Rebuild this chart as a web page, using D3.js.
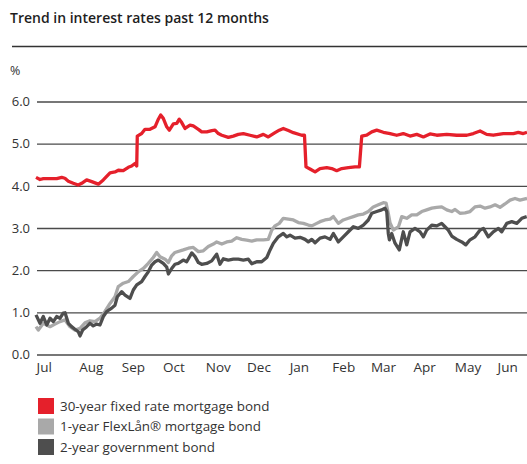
<!DOCTYPE html>
<html>
<head>
<meta charset="utf-8">
<script src="https://cdn.jsdelivr.net/npm/d3@7"></script>
<style>
  body { margin: 0; background: #fff; }
  svg { display: block; font-family: "Open Sans", sans-serif; }
</style>
</head>
<body>
<div class="wrapper"></div>
<script>
// days since 1 Jul 2022, rate in %
var fixed30 = [[0,4.20],[2.9,4.15],[5.3,4.17],[10.2,4.17],[15,4.17],[18.7,4.20],[21,4.18],[23.5,4.11],[27.1,4.06],[30.7,4.02],
  [33.2,4.06],[36.8,4.14],[40.5,4.10],[45.3,4.04],[48.9,4.14],[53.8,4.31],[57.4,4.33],[59.8,4.37],[63.4,4.36],[67.1,4.44],
  [69.5,4.47],[71.9,4.53],[73.2,4.47],[73.6,5.18],[76.8,5.24],[79.2,5.34],[82.8,5.34],[86.5,5.40],[88.9,5.58],[90.6,5.68],
  [92.5,5.60],[95,5.40],[96.9,5.32],[99.8,5.47],[102.3,5.48],[104.1,5.58],[105.9,5.50],[108.3,5.36],[111.9,5.44],[114.3,5.42],
  [118,5.34],[120.4,5.28],[124.1,5.28],[127.7,5.31],[130.1,5.32],[132.5,5.24],[135,5.20],[139.8,5.15],[143.4,5.18],[147,5.22],
  [150.7,5.24],[155.5,5.20],[160.4,5.16],[165.2,5.22],[168.8,5.16],[173.7,5.26],[176.8,5.32],[179.7,5.36],[183.4,5.31],[187,5.26],
  [193.1,5.20],[195.1,5.20],[196.2,4.45],[199.1,4.40],[202.8,4.33],[206.4,4.41],[211.3,4.43],[214.9,4.41],[218.5,4.36],[222.2,4.41],
  [227,4.43],[231.8,4.45],[235,4.45],[236.7,5.18],[240.3,5.20],[244,5.28],[247.6,5.32],[252.4,5.27],[257.3,5.24],[262.1,5.20],
  [266.9,5.24],[271.8,5.18],[276.7,5.22],[281.5,5.16],[286.3,5.23],[291.2,5.20],[298.5,5.22],[305.7,5.20],[313,5.20],[317.8,5.24],
  [322.7,5.30],[327.5,5.22],[332.3,5.20],[339.6,5.24],[346.9,5.24],[350.5,5.27],[354.1,5.24],[356.8,5.27]];

var flex1 = [[0,0.66],[1.7,0.58],[5.3,0.74],[10.2,0.66],[13.8,0.72],[17.4,0.78],[21.1,0.82],[24.7,0.66],[28.3,0.58],[32,0.62],
  [35.6,0.75],[39.2,0.80],[42.9,0.78],[46.5,0.86],[50.1,1.02],[53.8,1.21],[57.4,1.37],[59.8,1.61],[63.4,1.69],[67.1,1.73],
  [70.7,1.85],[74.3,1.96],[78,2.04],[81.6,2.16],[85.2,2.30],[87.7,2.42],[90.1,2.32],[93.8,2.26],[96.2,2.18],[98.6,2.34],
  [101,2.42],[107,2.48],[110.7,2.52],[114.3,2.54],[118,2.44],[121.6,2.46],[125.2,2.56],[128.9,2.62],[131.3,2.67],[135,2.62],
  [138.6,2.67],[142.2,2.69],[145.9,2.77],[149.5,2.73],[153.1,2.71],[156.8,2.69],[160.4,2.72],[165.2,2.72],[168.8,2.73],[171.3,2.95],
  [173.7,3.05],[176.8,3.11],[179.7,3.23],[183.4,3.21],[187,3.19],[190.6,3.13],[194.3,3.11],[197.9,3.07],[200.4,3.05],[204,3.11],
  [206.4,3.15],[210,3.19],[213.7,3.21],[216.1,3.27],[219.7,3.11],[223.3,3.19],[227,3.23],[230.6,3.27],[234.2,3.31],[237.9,3.33],
  [241.5,3.39],[245.1,3.50],[248.8,3.55],[252.4,3.60],[254.4,3.59],[256,3.35],[257.3,3.12],[259.7,2.95],[263.4,3.03],[265.8,3.27],
  [269.4,3.23],[273,3.31],[276.7,3.31],[280.3,3.39],[283.9,3.43],[287.6,3.47],[291.2,3.49],[294.8,3.50],[298.5,3.43],[302.1,3.39],
  [304.5,3.44],[308.1,3.35],[311.8,3.36],[315.4,3.39],[319,3.50],[322.7,3.52],[326.3,3.47],[329.9,3.50],[333.6,3.55],[337.2,3.49],
  [340.8,3.57],[344.5,3.66],[348.1,3.70],[351.7,3.66],[355.4,3.69],[356.8,3.70]];

var gov2 = [[0,0.94],[2.9,0.74],[5.3,0.90],[7.8,0.70],[10.2,0.86],[12.6,0.78],[15,0.90],[17.4,0.86],[19.8,0.98],[21.1,0.99],
  [23.5,0.74],[25.9,0.66],[28.3,0.60],[30.7,0.54],[32,0.44],[33.9,0.58],[36.8,0.66],[39.2,0.74],[41.6,0.68],[44.1,0.72],
  [46.5,0.70],[48.9,0.90],[51.4,1.02],[55,1.10],[57.4,1.17],[59.1,1.37],[62.3,1.49],[64.7,1.41],[68.3,1.33],[70.7,1.53],
  [73.2,1.65],[76.8,1.73],[79.2,1.85],[81.6,1.96],[84.1,2.12],[86.5,2.20],[88.9,2.24],[92.5,2.16],[95,2.07],[96.2,1.91],
  [98.6,2.04],[101,2.14],[103.4,2.16],[107,2.24],[109.5,2.20],[113.2,2.41],[115.6,2.32],[118,2.18],[120.4,2.14],[124.1,2.16],
  [127.7,2.22],[131.3,2.38],[133.7,2.14],[136.1,2.27],[139.8,2.24],[143.4,2.26],[147,2.26],[150.7,2.24],[154.3,2.26],[156.8,2.15],
  [160.4,2.20],[164,2.20],[167.7,2.30],[170.1,2.48],[172.5,2.64],[176.1,2.79],[179.7,2.87],[182.2,2.79],[184.6,2.83],[188.2,2.76],
  [191.9,2.78],[195.5,2.73],[197.9,2.67],[200.4,2.73],[202.8,2.65],[206.4,2.76],[210,2.79],[213.7,2.73],[216.1,2.87],[219.7,2.67],
  [223.3,2.79],[227,2.91],[230.6,3.03],[234.2,2.99],[237.9,3.07],[241.5,3.19],[244,3.35],[247.6,3.39],[251.2,3.43],[253.6,3.47],
  [254.9,3.39],[256,2.87],[256.8,2.72],[258.5,2.87],[260.9,2.64],[264,2.48],[266.9,2.91],[269.4,2.60],[271.8,2.91],[275.4,2.99],
  [279.1,2.91],[281.5,2.79],[283.9,2.95],[287.6,3.07],[291.2,3.05],[294.8,3.11],[297.2,3.03],[299.6,2.95],[302.1,2.81],[305.7,2.73],
  [309.4,2.67],[312.3,2.60],[315.4,2.72],[319,2.79],[322.7,2.95],[325.1,2.99],[328.7,2.79],[332.3,2.91],[336,2.99],[338.4,2.91],
  [342.1,3.11],[345.7,3.15],[349.4,3.11],[353,3.23],[356.6,3.27]];

var yTicks = [0, 1, 2, 3, 4, 5, 6];
var seriesNames = ["30-year fixed rate mortgage bond", "1-year FlexLån® mortgage bond", "2-year government bond"];
var seriesColors = ["#e5202b", "#a9a9a9", "#4e4e4e"];
var title = "Trend in interest rates past 12 months";

var startDate = new Date(Date.UTC(2022, 6, 1));
function toDate(d) { return new Date(startDate.getTime() + d * 86400000); }

var width = 527,
  height = 464;

var svg = d3.select(".wrapper")
  .append("svg")
    .attr("width", width)
    .attr("height", height);

svg.append("text")
  .attr("x", 10)
  .attr("y", 23)
  .attr("font-size", 14)
  .attr("font-weight", 600)
  .attr("fill", "#1e1e1e")
  .text(title);

svg.append("line")
  .attr("x1", 12)
  .attr("x2", width)
  .attr("y1", 46.5)
  .attr("y2", 46.5)
  .attr("stroke", "#333")
  .attr("stroke-width", 1.5);

svg.append("text")
  .attr("x", 10)
  .attr("y", 75)
  .attr("font-size", 12.5)
  .attr("fill", "#333")
  .text("%");

var x = d3.scaleUtc()
  .domain([startDate, toDate(356.8)])
  .range([36, 527]);

var y = d3.scaleLinear()
  .domain([0, 6])
  .range([354.5, 101.5]);

// gridlines + y labels
var yAxis = svg.append("g")
  .attr("transform", "translate(37,0)")
  .call(d3.axisLeft(y).tickValues(yTicks).tickSize(-(width - 37)).tickPadding(7).tickFormat(d3.format(".1f")));
yAxis.select(".domain").remove();
yAxis.selectAll("line")
  .attr("stroke", "#4a4a4a")
  .attr("stroke-width", 1.3);
yAxis.selectAll("text")
  .attr("font-size", 13)
  .attr("font-family", "\"Open Sans\", sans-serif")
  .attr("fill", "#333");

var xAxis = svg.append("g")
  .attr("transform", "translate(0,362)")
  .call(d3.axisBottom(x).ticks(d3.utcMonth.every(1)).tickSize(0).tickPadding(0).tickFormat(d3.utcFormat("%b")));
xAxis.select(".domain").remove();
xAxis.selectAll("text")
  .attr("text-anchor", "start")
  .attr("dy", "0.71em")
  .attr("font-size", 13.5)
  .attr("font-family", "\"Open Sans\", sans-serif")
  .attr("fill", "#333");

var line = d3.line()
  .x(function(d) { return x(toDate(d[0])); })
  .y(function(d) { return y(d[1]); });

var plot = svg.append("g");
// draw order: light grey, dark grey, red on top
[[flex1, seriesColors[1]], [gov2, seriesColors[2]], [fixed30, seriesColors[0]]].forEach(function(s) {
  plot.append("path")
    .datum(s[0])
    .attr("fill", "none")
    .attr("stroke", s[1])
    .attr("stroke-width", 3.3)
    .attr("stroke-linejoin", "round")
    .attr("d", line);
});

var legend = svg.append("g")
  .selectAll("g")
  .data(seriesNames)
  .enter().append("g")
    .attr("transform", function(d, i) { return "translate(38," + (398 + i * 20.5) + ")"; });

legend.append("rect")
  .attr("width", 16)
  .attr("height", 16)
  .attr("fill", function(d, i) { return seriesColors[i]; });

legend.append("text")
  .attr("x", 22)
  .attr("y", 8)
  .attr("dy", "0.35em")
  .attr("font-size", 13.4)
  .attr("fill", "#333")
  .text(function(d) { return d; });
</script>
</body>
</html>
